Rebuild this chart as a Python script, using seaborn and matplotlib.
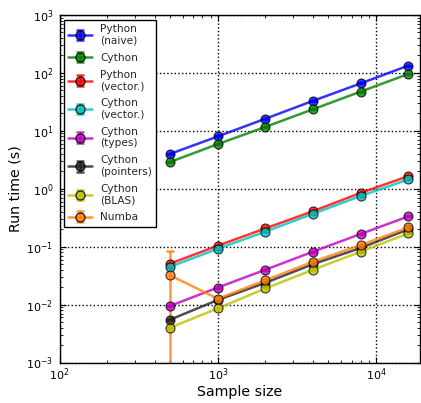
import seaborn as sns
import matplotlib
matplotlib.use("Agg")
import matplotlib.pyplot as plt
import matplotlib.lines as mlines
from matplotlib.legend_handler import HandlerTuple
import pandas as pd
import numpy as np

# sample sizes and run times (s)
sizes = [500, 1000, 2000, 4000, 8000, 16000]

methods = ["Python\n(naive)", "Cython", "Python\n(vector.)", "Cython\n(vector.)",
           "Cython\n(types)", "Cython\n(pointers)", "Cython\n(BLAS)", "Numba"]

python_naive   = [4.0, 8.0, 16.2, 33.0, 66.0, 134.0]
cython_plain   = [2.9, 5.9, 11.7, 23.6, 47.6, 96.0]
python_vector  = [0.051, 0.104, 0.207, 0.41, 0.85, 1.65]
cython_vector  = [0.045, 0.092, 0.182, 0.37, 0.75, 1.45]
cython_types   = [0.0095, 0.0197, 0.040, 0.082, 0.166, 0.333]
cython_pointer = [0.0055, 0.0120, 0.0238, 0.050, 0.095, 0.200]
cython_blas    = [0.0040, 0.0086, 0.019, 0.040, 0.082, 0.170]
numba          = [0.032, 0.0126, 0.0264, 0.055, 0.107, 0.215]

# standard deviations; only the first Numba one is visible
numba_err = [0.051, 0, 0, 0, 0, 0]

series = [python_naive, cython_plain, python_vector, cython_vector,
          cython_types, cython_pointer, cython_blas, numba]
errors = [[0] * 6] * 7 + [numba_err]

colors = ["#0000ff", "#008000", "#ff0000", "#00bfbf",
          "#bf00bf", "#222222", "#bfbf00", "#ff7f0e"]

df = pd.DataFrame({
    "size": np.tile(sizes, len(methods)),
    "time": np.concatenate(series),
    "method": np.repeat(methods, len(sizes)),
})

sns.set_style("ticks", {"xtick.direction": "in", "ytick.direction": "in",
                        "axes.edgecolor": "black", "xtick.color": "black",
                        "ytick.color": "black", "axes.labelcolor": "black"})
plt.rcParams["font.family"] = ["DejaVu Sans"]
plt.rcParams["xtick.top"] = True
plt.rcParams["ytick.right"] = True
plt.rcParams["xtick.minor.visible"] = True
plt.rcParams["ytick.minor.visible"] = True
plt.rcParams["xtick.major.size"] = 4.5
plt.rcParams["ytick.major.size"] = 4.5
plt.rcParams["xtick.minor.size"] = 2.2
plt.rcParams["ytick.minor.size"] = 2.2
plt.rcParams["axes.linewidth"] = 1.0

fig = plt.figure(figsize=(4.21, 4.03), dpi=100)
ax = fig.add_axes([59.5 / 421, 1 - 362.5 / 403, (419.5 - 59.5) / 421, (362.5 - 15) / 403])

sns.lineplot(data=df, x="size", y="time", hue="method", hue_order=methods,
             palette=colors, marker="o", markersize=6.5, markeredgecolor="black",
             linewidth=1.8, alpha=0.8, errorbar=None, legend=False, ax=ax)

handles = []
for vals, err, c, name in zip(series, errors, colors, methods):
    eb = ax.errorbar(sizes, vals, yerr=err, fmt="none", ecolor=c, elinewidth=1.8,
                     capsize=3, capthick=1.8, alpha=0.8, zorder=1.5)
    proxy = mlines.Line2D([], [], color=c, marker="o", markersize=6.5,
                          markeredgecolor="black", linewidth=1.8, alpha=0.8)
    handles.append((eb, proxy))

ax.set_xscale("log")
ax.set_yscale("log")
ax.set_xlim(100, 1.88e4)
ax.set_ylim(1e-3, 1e3)
ax.grid(True, which="major", linestyle=":", color="black", linewidth=1.0)
ax.tick_params(which="both", labelsize=8)
ax.tick_params(axis="x", pad=2.5)
ax.tick_params(axis="y", pad=4.5)

ax.set_xlabel("Sample size", fontsize=10.2, labelpad=1.5)
ax.set_ylabel("Run time (s)", fontsize=10.2, labelpad=3)

leg = ax.legend(handles, methods, handler_map={tuple: HandlerTuple(ndivide=1)},
                loc="upper left", fontsize=7.6, fancybox=False, framealpha=1,
                edgecolor="black", labelspacing=0.66, handlelength=2.2,
                borderaxespad=0.45, borderpad=0.4)
leg.get_frame().set_linewidth(1.0)

fig.savefig("out.png", dpi=100)
